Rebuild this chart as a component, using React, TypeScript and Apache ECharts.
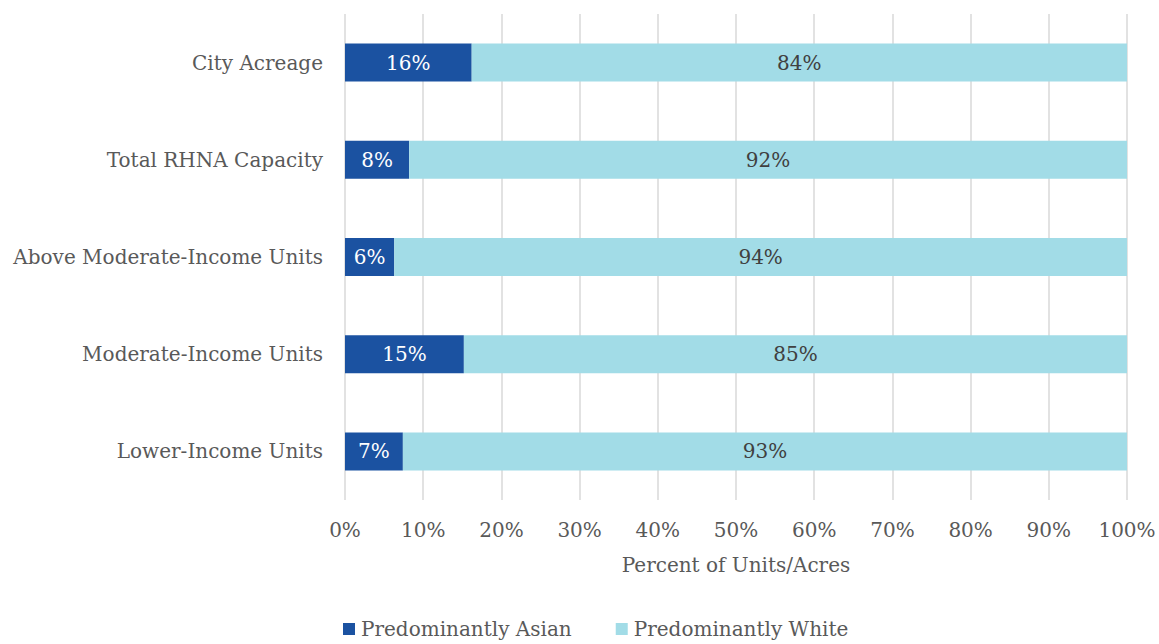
import React, { useEffect, useRef } from "react";
import * as echarts from "echarts";

const categories = [
  "Lower-Income Units",
  "Moderate-Income Units",
  "Above Moderate-Income Units",
  "Total RHNA Capacity",
  "City Acreage",
];
const asianValues = [7.4, 15.2, 6.3, 8.2, 16.2];
const whiteValues = [92.6, 84.8, 93.7, 91.8, 83.8];
const seriesNames = ["Predominantly Asian", "Predominantly White"];
const xTicks = [0, 10, 20, 30, 40, 50, 60, 70, 80, 90, 100];

const FONT = "DejaVu Serif";
const FS = 20;

export default function App() {
  const ref = useRef<HTMLDivElement>(null);
  useEffect(() => {
    if (!ref.current) return;
    const chart = echarts.init(ref.current, undefined, { renderer: "svg" });
    chart.setOption({
      animation: false,
      textStyle: { fontFamily: FONT },
      grid: { left: 345, right: 32, top: 14, bottom: 144 },
      legend: {
        bottom: 0,
        left: 338,
        itemWidth: 12,
        itemHeight: 12,
        itemGap: 44,
        icon: "rect",
        textStyle: { fontFamily: FONT, fontSize: FS, color: "#595959", padding: [0, 0, 0, 1] },
        data: seriesNames,
      },
      xAxis: {
        type: "value",
        min: xTicks[0],
        max: xTicks[xTicks.length - 1],
        interval: 10,
        name: "Percent of Units/Acres",
        nameLocation: "middle",
        nameGap: 55,
        nameTextStyle: { fontFamily: FONT, fontSize: FS, color: "#595959" },
        axisLine: { show: false },
        axisTick: { show: false },
        axisLabel: {
          margin: 20,
          fontFamily: FONT,
          fontSize: FS,
          color: "#595959",
          formatter: (v: number) => `${v}%`,
        },
        splitLine: { show: true, lineStyle: { color: "#D9D9D9", width: 1.5 } },
      },
      yAxis: {
        type: "category",
        data: categories,
        axisLine: { show: false },
        axisTick: { show: false },
        axisLabel: {
          margin: 22,
          fontFamily: FONT,
          fontSize: FS,
          color: "#595959",
        },
      },
      series: [
        {
          name: seriesNames[0],
          type: "bar",
          stack: "total",
          data: asianValues,
          barWidth: 38,
          itemStyle: { color: "#1B52A1" },
          label: {
            show: true,
            position: "inside",
            color: "#FFFFFF",
            fontFamily: FONT,
            fontSize: FS,
            formatter: (p: any) => `${Math.round(p.value)}%`,
          },
        },
        {
          name: seriesNames[1],
          type: "bar",
          stack: "total",
          data: whiteValues,
          barWidth: 38,
          itemStyle: { color: "#A2DCE7" },
          label: {
            show: true,
            position: "inside",
            color: "#404040",
            fontFamily: FONT,
            fontSize: FS,
            formatter: (p: any) => `${Math.round(p.value)}%`,
          },
        },
      ],
    });
    return () => chart.dispose();
  }, []);
  return <div ref={ref} style={{ width: 1159, height: 644, position: "absolute", left: 0, top: 0 }} />;
}
